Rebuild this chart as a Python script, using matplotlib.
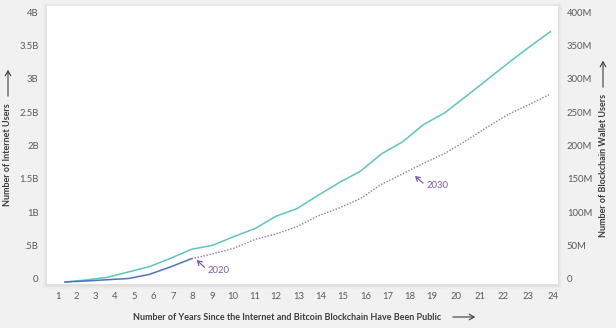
import matplotlib
matplotlib.use("Agg")
import matplotlib.pyplot as plt
from matplotlib.transforms import ScaledTranslation
from matplotlib.patches import Rectangle, FancyArrowPatch

# ---------------- data ----------------
years = list(range(1, 25))
internet_users_b = [0.0, 0.03, 0.07, 0.15, 0.23, 0.355, 0.49, 0.55, 0.68, 0.80,
                    0.985, 1.10, 1.30, 1.49, 1.66, 1.92, 2.10, 2.36, 2.535, 2.78,
                    3.03, 3.28, 3.52, 3.75]
wallet_years_hist = [1, 2, 3, 4, 5, 6, 7]
wallet_users_hist_m = [0, 1.5, 3.4, 5.2, 11.4, 22.6, 35]
wallet_years_proj = list(range(7, 25))
wallet_users_proj_m = [35, 42, 50.5, 63.7, 72, 83, 99, 111, 125, 146.5, 162, 178,
                       192.6, 211.5, 231.8, 251, 266, 281.6]
x_tick_labels = [str(i) for i in range(1, 25)]
left_ticks = [0, 0.5, 1, 1.5, 2, 2.5, 3, 3.5, 4]
left_tick_labels = ["0", ".5B", "1B", "1.5B", "2B", "2.5B", "3B", "3.5B", "4B"]
right_ticks = [0, 50, 100, 150, 200, 250, 300, 350, 400]
right_tick_labels = ["0", "50M", "100M", "150M", "200M", "250M", "300M", "350M", "400M"]

# label layout positions (labels are not evenly spaced in the reference)
x_tick_pos = [0.66, 1.55, 2.445, 3.355, 4.29, 5.20, 6.115, 7.025, 7.96, 8.96,
              9.99, 11.01, 12.07, 13.11, 14.175, 15.24, 16.30, 17.34, 18.40,
              19.52, 20.66, 21.77, 22.93, 24.12]

plt.rcParams["font.family"] = ["Lato", "DejaVu Sans"]

TEAL = "#5cc6bf"
BLUE = "#4f74bd"
PURPLE = "#8d74b8"
ANN = "#7b5aa6"
TXT = "#5a5a5a"
LAB = "#3d3d3d"
BG = "#f1f1f1"

W, H = 616, 328
fig = plt.figure(figsize=(W / 100, H / 100), dpi=100, facecolor=BG)

L, R, T, B = 47, 558, 6, 284
ax = fig.add_axes([L / W, 1 - B / H, (R - L) / W, (B - T) / H])
ax.set_facecolor("white")

# soft shadow around the plot area
for i, a in enumerate([0.025, 0.02, 0.015, 0.01]):
    d = i + 1
    fig.patches.append(Rectangle(((L - d) / W, 1 - (B + d + 1) / H),
                                 (R - L + 2 * d) / W, (B - T + 2 * d) / H,
                                 transform=fig.transFigure, facecolor="black",
                                 alpha=a, edgecolor="none", zorder=-5))

ax2 = ax.twinx()

ax.plot(years, internet_users_b, color=TEAL, lw=1.1, zorder=3)
ax2.plot(wallet_years_hist, wallet_users_hist_m, color=BLUE, lw=1.1, zorder=3)
ax2.plot(wallet_years_proj, wallet_users_proj_m, color=PURPLE, lw=1.0,
         linestyle=(0, (1, 1.2)), zorder=3)

ax.set_xlim(0.147, 24.365)
ax.set_ylim(-0.03, 4.135)
ax2.set_ylim(-3.0, 413.5)

for a in (ax, ax2):
    for s in a.spines.values():
        s.set_visible(False)

ax.set_xticks(x_tick_pos)
ax.set_xticklabels(x_tick_labels)
ax.set_yticks(left_ticks)
ax.set_yticklabels(left_tick_labels)
ax2.set_yticks(right_ticks)
ax2.set_yticklabels(right_tick_labels)

ax.tick_params(axis="x", length=0, pad=6, labelsize=6.8, colors=TXT)
ax.tick_params(axis="y", length=0, pad=6, labelsize=6.8, colors=TXT)
ax2.tick_params(axis="y", length=0, pad=6.3, labelsize=6.8, colors=TXT)

shift = ScaledTranslation(0, 3 / 100, fig.dpi_scale_trans)
for lab in ax.get_yticklabels() + ax2.get_yticklabels():
    lab.set_transform(lab.get_transform() + shift)


def anchored_arrow(axis, xy, tip, tail, txt_off, text):
    base = axis.transData
    t_tip = base + ScaledTranslation(tip[0] / 72, tip[1] / 72, fig.dpi_scale_trans)
    t_tail = base + ScaledTranslation(tail[0] / 72, tail[1] / 72, fig.dpi_scale_trans)
    p_tip = t_tip.transform(xy)
    p_tail = t_tail.transform(xy)
    axis.annotate("", xy=p_tip, xycoords="figure pixels",
                  xytext=p_tail, textcoords="figure pixels",
                  arrowprops=dict(arrowstyle="->,head_length=0.3,head_width=0.18",
                                  color=ANN, lw=0.9, shrinkA=0, shrinkB=0))
    axis.annotate(text, xy=xy, xytext=txt_off, textcoords="offset points",
                  ha="left", va="center", fontsize=6.8, color=ANN)


anchored_arrow(ax2, (wallet_years_hist[-1], wallet_users_hist_m[-1]),
               (3.6, -1.0), (9.4, -6.3), (11.5, -8.3), "2020")
anchored_arrow(ax2, (wallet_years_proj[11], wallet_users_proj_m[11]),
               (-6.3, -9.2), (-0.5, -14.3), (1.7, -16.4), "2030")

# axis titles
fig.text(287 / W, 1 - 317 / H,
         "Number of Years Since the Internet and Bitcoin Blockchain Have Been Public",
         ha="center", va="center", fontsize=6.5, fontweight="bold", color=LAB)
fig.text(8 / W, 1 - 155 / H, "Number of Internet Users", rotation=90,
         ha="center", va="center", fontsize=6.5, fontweight="bold", color=LAB)
fig.text(603 / W, 1 - 165 / H, "Number of Blockchain Wallet Users", rotation=90,
         ha="center", va="center", fontsize=6.5, fontweight="bold", color=LAB)

arrow_style = "->,head_length=0.35,head_width=0.2"
for p0, p1 in [((450, 317), (478, 317)), ((8, 99), (8, 67)), ((603, 90), (603, 58))]:
    fig.add_artist(FancyArrowPatch((p0[0] / W, 1 - p0[1] / H), (p1[0] / W, 1 - p1[1] / H),
                                   transform=fig.transFigure, arrowstyle=arrow_style,
                                   color=LAB, lw=0.8, mutation_scale=10))

fig.savefig("out.png", dpi=100, facecolor=BG)
